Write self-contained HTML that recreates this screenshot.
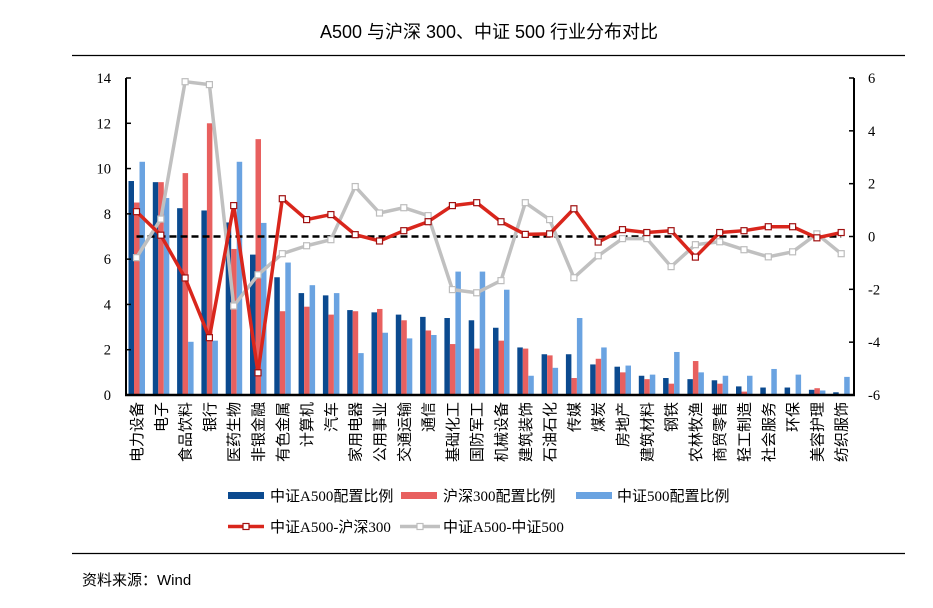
<!DOCTYPE html>
<html><head><meta charset="utf-8"><style>
html,body{margin:0;padding:0;background:#fff;}
svg{display:block;}
</style></head><body>
<svg id="s" width="933" height="608" xmlns="http://www.w3.org/2000/svg"></svg>
<script>
const S=document.getElementById('s');
const NS='http://www.w3.org/2000/svg';
function el(t,a,txt){const e=document.createElementNS(NS,t);for(const k in a)e.setAttribute(k,a[k]);if(txt!==undefined)e.textContent=txt;S.appendChild(e);return e;}
const cats=["电力设备","电子","食品饮料","银行","医药生物","非银金融","有色金属","计算机","汽车","家用电器","公用事业","交通运输","通信","基础化工","国防军工","机械设备","建筑装饰","石油石化","传媒","煤炭","房地产","建筑材料","钢铁","农林牧渔","商贸零售","轻工制造","社会服务","环保","美容护理","纺织服饰"];
const A=[9.45,9.4,8.25,8.15,7.62,6.2,5.2,4.5,4.4,3.75,3.65,3.55,3.45,3.4,3.3,2.97,2.1,1.8,1.8,1.35,1.25,0.85,0.75,0.7,0.65,0.38,0.33,0.33,0.23,0.12];
const H=[8.5,9.4,9.8,12.0,6.45,11.3,3.7,3.9,3.55,3.7,3.8,3.3,2.85,2.25,2.05,2.4,2.05,1.75,0.75,1.6,1.0,0.7,0.5,1.5,0.5,0.15,0,0,0.3,0];
const Z=[10.3,8.7,2.35,2.4,10.3,7.6,5.85,4.85,4.5,1.85,2.75,2.5,2.65,5.45,5.45,4.65,0.85,1.2,3.4,2.1,1.3,0.9,1.9,1.0,0.85,0.85,1.15,0.9,0.2,0.8];
const R=[0.94,0.05,-1.57,-3.83,1.17,-5.16,1.43,0.64,0.83,0.07,-0.17,0.22,0.56,1.17,1.28,0.56,0.08,0.1,1.05,-0.21,0.26,0.15,0.22,-0.78,0.15,0.22,0.37,0.37,-0.05,0.15];
const G=[-0.8,0.66,5.86,5.75,-2.63,-1.45,-0.65,-0.35,-0.12,1.89,0.89,1.09,0.79,-2.01,-2.13,-1.67,1.28,0.64,-1.56,-0.73,-0.08,-0.08,-1.14,-0.31,-0.2,-0.5,-0.77,-0.58,0.1,-0.65];
const X0=126,X1=854,Y0=395,YT=78;
const ly=v=>Y0-v*(Y0-YT)/14;
const ry=v=>236.5-v*(Y0-YT)/12;
const cx=i=>136.5+i*24.3;
const F='"Liberation Serif","Noto Sans CJK SC",serif';
const FC='"Liberation Sans","Noto Sans CJK SC",sans-serif';
el('text',{x:489,y:38,'text-anchor':'middle','font-family':FC,'font-size':18,fill:'#000'},'A500 与沪深 300、中证 500 行业分布对比');
el('line',{x1:72,y1:55.5,x2:905,y2:55.5,stroke:'#000','stroke-width':1.2});
el('line',{x1:72,y1:553.5,x2:905,y2:553.5,stroke:'#000','stroke-width':1.2});
el('text',{x:82,y:585,'font-family':FC,'font-size':15,fill:'#000'},'资料来源：Wind');
for(let i=0;i<30;i++){const c=cx(i);
 [[A,'#0b4a8f',-8],[H,'#e8605f',-2.5],[Z,'#6aa3e1',3]].forEach(([d,col,o])=>{if(d[i]>0)el('rect',{x:c+o,y:ly(d[i]),width:5.5,height:Y0-ly(d[i]),fill:col});});
}
el('line',{x1:X0,y1:YT,x2:X0,y2:Y0,stroke:'#000','stroke-width':2});
el('line',{x1:X1,y1:YT,x2:X1,y2:Y0,stroke:'#000','stroke-width':2});
el('line',{x1:X0-1,y1:Y0,x2:X1+1,y2:Y0,stroke:'#000','stroke-width':2.5});
for(let v=0;v<=14;v+=2){const y=ly(v);el('line',{x1:X0,y1:y,x2:X0+5,y2:y,stroke:'#000','stroke-width':1.5});
 el('text',{x:111,y:y+5,'text-anchor':'end','font-family':F,'font-size':14.5},v);}
for(let v=-6;v<=6;v+=2){const y=ry(v);el('line',{x1:X1-5,y1:y,x2:X1,y2:y,stroke:'#000','stroke-width':1.5});
 el('text',{x:868,y:y+5,'text-anchor':'start','font-family':F,'font-size':14.5},v);}
el('line',{x1:cx(0),y1:ry(0),x2:cx(29),y2:ry(0),stroke:'#000','stroke-width':2.5,'stroke-dasharray':'7,4'});
function line(d,col,mk){el('polyline',{points:d.map((v,i)=>cx(i)+','+ry(v)).join(' '),fill:'none',stroke:col,'stroke-width':3.5,'stroke-linejoin':'round'});
 d.forEach((v,i)=>el('rect',{x:cx(i)-3,y:ry(v)-3,width:6,height:6,fill:'#fff',stroke:mk,'stroke-width':1.2}));}
line(G,'#c0c0c0','#bdbdbd');
line(R,'#d9261c','#a01010');
cats.forEach((c,i)=>{const x=cx(i)+5.5,y=402;el('text',{x:x,y:y,transform:`rotate(-90 ${x} ${y})`,'text-anchor':'end','font-family':FC,'font-size':15,fill:'#000'},c);});
const LF='"Liberation Serif","Noto Sans CJK SC",serif';
el('rect',{x:228,y:492,width:36,height:7,fill:'#0b4a8f'});
el('text',{x:270,y:501,'font-family':LF,'font-size':15},'中证A500配置比例');
el('rect',{x:401,y:492,width:36,height:7,fill:'#e8605f'});
el('text',{x:443,y:501,'font-family':LF,'font-size':15},'沪深300配置比例');
el('rect',{x:576,y:492,width:36,height:7,fill:'#6aa3e1'});
el('text',{x:617,y:501,'font-family':LF,'font-size':15},'中证500配置比例');
el('line',{x1:228,y1:526.5,x2:264,y2:526.5,stroke:'#d9261c','stroke-width':3.5});
el('rect',{x:243,y:523.5,width:6,height:6,fill:'#fff',stroke:'#a01010','stroke-width':1.2});
el('text',{x:270,y:532,'font-family':LF,'font-size':15},'中证A500-沪深300');
el('line',{x1:400,y1:526.5,x2:440,y2:526.5,stroke:'#c0c0c0','stroke-width':3.5});
el('rect',{x:417,y:523.5,width:6,height:6,fill:'#fff',stroke:'#bdbdbd','stroke-width':1.2});
el('text',{x:443,y:532,'font-family':LF,'font-size':15},'中证A500-中证500');
</script>
</body></html>
